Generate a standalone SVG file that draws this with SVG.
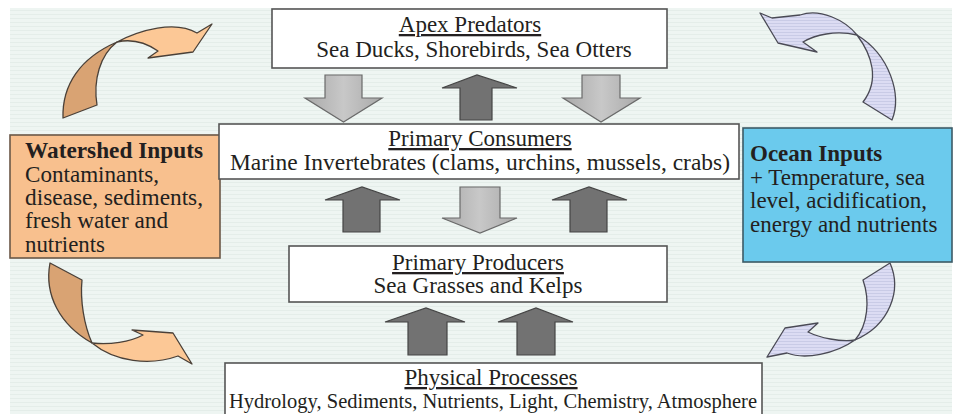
<svg xmlns="http://www.w3.org/2000/svg" width="956" height="414" viewBox="0 0 956 414">
<defs>
<pattern id="stripes" width="8" height="4" patternUnits="userSpaceOnUse">
<rect width="8" height="4" fill="#eef5f2"/>
<rect y="2" width="8" height="1" fill="#e4ede9"/>
</pattern>
<pattern id="hatch" width="3" height="3" patternUnits="userSpaceOnUse">
<rect width="3" height="3" fill="#dcdcf3"/>
<rect y="2" width="3" height="1" fill="#c9cbe6"/>
</pattern>
<linearGradient id="lightGrad" x1="0" y1="0" x2="1" y2="0">
<stop offset="0" stop-color="#a9a9a9"/>
<stop offset="0.5" stop-color="#c8c8c8"/>
<stop offset="1" stop-color="#a9a9a9"/>
</linearGradient>
</defs>
<style>
.box{fill:#ffffff;stroke:#555555;stroke-width:1.6}
.t{font-family:"Liberation Serif","Times New Roman",serif;font-size:23px;fill:#231f20}
.ctr{text-anchor:middle}
.u{text-decoration:underline}
.b{font-weight:bold}
.up{fill:#727272;stroke:#454545;stroke-width:1.2}
.down{fill:url(#lightGrad);stroke:#6a6a6a;stroke-width:1.2}
.curve{stroke:#4a4038;stroke-width:1.3;stroke-linejoin:round}
.curveB{stroke:#4a4a55;stroke-width:1.3;stroke-linejoin:round}
</style>
<rect x="0" y="0" width="956" height="414" fill="#ffffff"/>
<rect x="10" y="8" width="942" height="406" fill="url(#stripes)"/>

<g id="connectors">
<!-- Apex <-> Consumers -->
<path class="down" d="M325,75 H362 V98 H382 L343.5,122 L305,98 H325 Z"/>
<path class="up" d="M460,120 V88 H442 L477,75 L517,88 H492 V120 Z"/>
<path class="down" d="M582,75 H620 V98 H640 L601,122 L563,98 H582 Z"/>
<!-- Consumers <-> Producers -->
<path class="up" d="M343,232 V200 H325 L362,187 L400,200 H380 V232 Z"/>
<path class="down" d="M460,187 H500 V218 H517 L480,233 L442,218 H460 Z"/>
<path class="up" d="M570,232 V200 H552 L589,187 L627,200 H607 V232 Z"/>
<!-- Physical -> Producers -->
<path class="up" d="M408,355 V322 H385 L426,308 L465,322 H447 V355 Z"/>
<path class="up" d="M517,355 V322 H498 L536,308 L573,322 H555 V355 Z"/>
<!-- curved arrows: top-left (orange) -->
<path class="curve" fill="#d9a373" d="M63,118 C62,85 80,58 117,42 C100,55 93,80 97,105 Z"/>
<path class="curve" fill="#fcc896" d="M117,42 C140,30 175,20 197,33 L212,24 L193,52 L148,58 L158,51 C145,42 130,39 117,42 Z"/>
<!-- top-right (blue) -->
<path class="curveB" fill="url(#hatch)" d="M892,120 C902,95 890,55 857,35 C872,55 880,80 863,102 Z"/>
<path class="curveB" fill="url(#hatch)" d="M857,35 C845,20 820,8 800,15 L772,18 L760,13 L778,43 L817,52 L803,42 C815,35 835,30 857,35 Z"/>
<!-- bottom-left (orange) -->
<path class="curve" fill="#d9a373" d="M50,263 C44,295 60,325 92,343 C84,325 80,300 82,280 Z"/>
<path class="curve" fill="#fcc896" d="M92,343 C110,345 130,342 143,335 L132,330 L173,333 L192,364 L178,356 C150,366 115,362 92,343 Z"/>
<!-- bottom-right (blue) -->
<path class="curveB" fill="url(#hatch)" d="M890,263 C902,290 890,325 855,340 C868,325 870,300 863,280 Z"/>
<path class="curveB" fill="url(#hatch)" d="M855,340 C835,354 805,360 787,353 L767,357 L785,328 L818,323 L808,332 C820,338 840,342 855,340 Z"/>
</g>

<g id="watershed">
<rect x="10" y="135" width="210" height="123" fill="#f8c08e" stroke="#6b5848" stroke-width="1.6"/>
<text class="t b" x="25" y="158" textLength="178" lengthAdjust="spacingAndGlyphs">Watershed Inputs</text>
<text class="t" x="25" y="182" textLength="134" lengthAdjust="spacingAndGlyphs">Contaminants,</text>
<text class="t" x="25" y="205" textLength="178" lengthAdjust="spacingAndGlyphs">disease, sediments,</text>
<text class="t" x="25" y="228" textLength="143" lengthAdjust="spacingAndGlyphs">fresh water and</text>
<text class="t" x="25" y="252" textLength="80" lengthAdjust="spacingAndGlyphs">nutrients</text>
</g>

<g id="ocean">
<rect x="743" y="128" width="209" height="134" fill="#6bcaed" stroke="#3c5a66" stroke-width="1.6"/>
<text class="t b" x="750" y="161">Ocean Inputs</text>
<text class="t" x="750" y="185">+ Temperature, sea</text>
<text class="t" x="750" y="208">level, acidification,</text>
<text class="t" x="750" y="232">energy and nutrients</text>
</g>

<g id="apex">
<rect class="box" x="272" y="9" width="395" height="59"/>
<text class="t ctr u" x="470" y="32">Apex Predators</text>
<text class="t ctr" x="474" y="57">Sea Ducks, Shorebirds, Sea Otters</text>
</g>

<g id="consumers">
<rect class="box" x="219" y="124" width="520" height="55"/>
<text class="t ctr u" x="480" y="146">Primary Consumers</text>
<text class="t ctr" x="480" y="170" textLength="500" lengthAdjust="spacingAndGlyphs">Marine Invertebrates (clams, urchins, mussels, crabs)</text>
</g>

<g id="producers">
<rect class="box" x="289" y="246" width="378" height="56"/>
<text class="t ctr u" x="478" y="270">Primary Producers</text>
<text class="t ctr" x="478" y="293">Sea Grasses and Kelps</text>
</g>

<g id="physical">
<rect class="box" x="225" y="363" width="537" height="60"/>
<text class="t ctr u" x="491" y="385">Physical Processes</text>
<text class="t ctr" x="493" y="408" style="font-size:20.5px">Hydrology, Sediments, Nutrients, Light, Chemistry, Atmosphere</text>
</g>
</svg>
